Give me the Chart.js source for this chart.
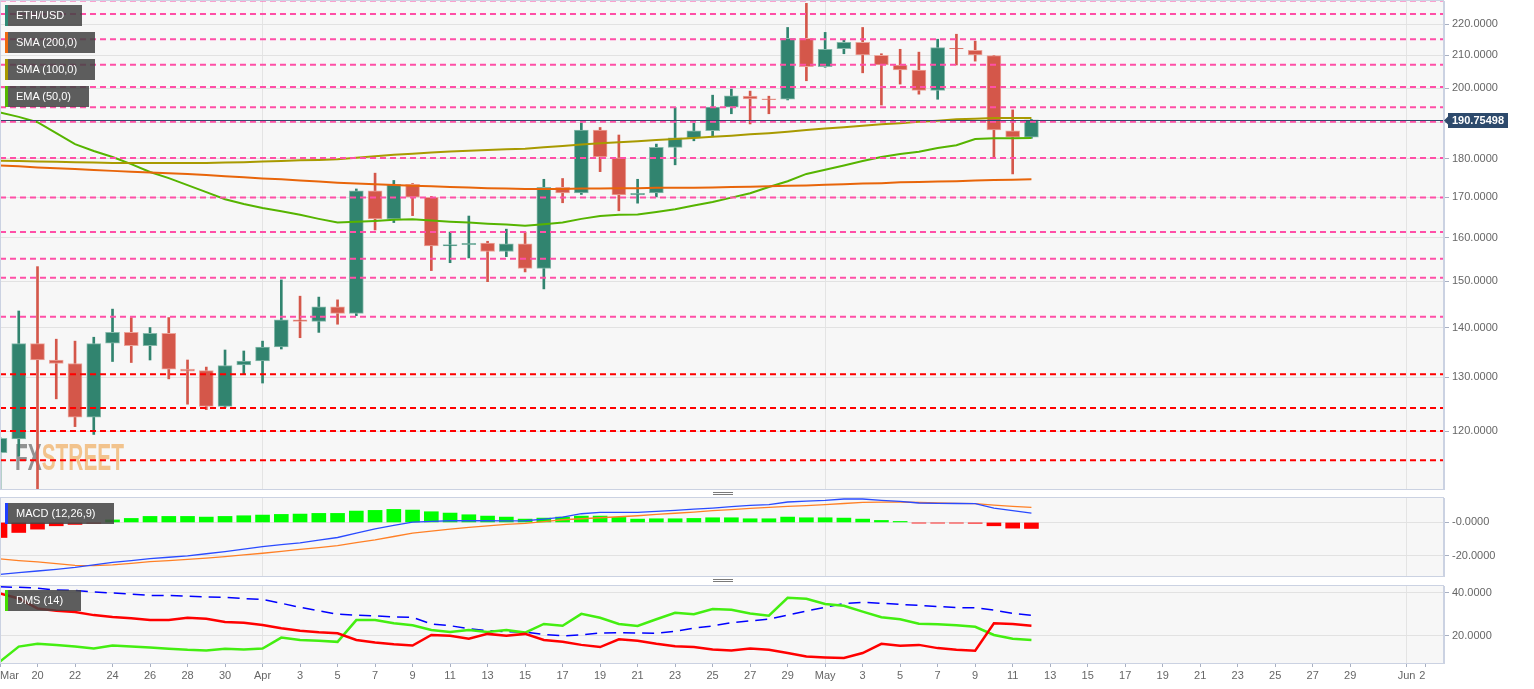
<!DOCTYPE html>
<html>
<head>
<meta charset="utf-8">
<script src="https://cdn.jsdelivr.net/npm/chart.js@4.4.0/dist/chart.umd.min.js"></script>
<style>
    body { margin: 0; background: #fff; width: 1534px; height: 689px; overflow: hidden; position: relative; font-family: "Liberation Sans", Arial, sans-serif; }
    canvas { position: absolute; left: 0; }
    .tag { position: absolute; left: 5px; height: 21px; line-height: 21px; background: rgba(68, 68, 68, 0.86); color: #fff; font-size: 11px; padding-left: 8px; box-sizing: border-box; border-left: 3px solid; white-space: nowrap; }
    .grip { position: absolute; left: 713px; width: 20px; height: 4px; background: repeating-linear-gradient(#7a7a7a 0 1px, transparent 1px 2px); }
</style>
</head>
<body>
<canvas id="mainChart" width="1534" height="490" style="top:0"></canvas>
<canvas id="macdChart" width="1534" height="87" style="top:490px"></canvas>
<canvas id="dmsChart" width="1534" height="112" style="top:577px"></canvas>

<div class="tag" style="top:5px;width:77px;border-color:#2e8b76">ETH/USD</div>
<div class="tag" style="top:32px;width:90px;border-color:#ee6a10">SMA (200,0)</div>
<div class="tag" style="top:59px;width:90px;border-color:#a89a00">SMA (100,0)</div>
<div class="tag" style="top:86px;width:84px;border-color:#55b800">EMA (50,0)</div>
<div class="tag" style="top:503px;width:109px;border-color:#1f3fff">MACD (12,26,9)</div>
<div class="tag" style="top:590px;width:76px;border-color:#44dd00">DMS (14)</div>
<div class="grip" style="top:492px"></div>
<div class="grip" style="top:579px"></div>

<script>
'use strict';

let axisStart = '2020-03-18';
let axisEnd = '2020-06-03';

let dates = [
    '2020-03-18', '2020-03-19', '2020-03-20', '2020-03-21', '2020-03-22', '2020-03-23', '2020-03-24',
    '2020-03-25', '2020-03-26', '2020-03-27', '2020-03-28', '2020-03-29', '2020-03-30', '2020-03-31',
    '2020-04-01', '2020-04-02', '2020-04-03', '2020-04-04', '2020-04-05', '2020-04-06', '2020-04-07',
    '2020-04-08', '2020-04-09', '2020-04-10', '2020-04-11', '2020-04-12', '2020-04-13', '2020-04-14',
    '2020-04-15', '2020-04-16', '2020-04-17', '2020-04-18', '2020-04-19', '2020-04-20', '2020-04-21',
    '2020-04-22', '2020-04-23', '2020-04-24', '2020-04-25', '2020-04-26', '2020-04-27', '2020-04-28',
    '2020-04-29', '2020-04-30', '2020-05-01', '2020-05-02', '2020-05-03', '2020-05-04', '2020-05-05',
    '2020-05-06', '2020-05-07', '2020-05-08', '2020-05-09', '2020-05-10', '2020-05-11', '2020-05-12'
];

let open = [116.2, 118.6, 136.7, 133.4, 132.7, 122.5, 136.8, 139.0, 136.3, 138.8, 131.6, 131.3, 124.5, 132.4,
    133.2, 136.0, 141.6, 141.3, 144.4, 143.0, 171.6, 164.6, 173.3, 170.0, 158.1, 158.4, 158.8, 156.8, 158.6, 152.9,
    172.5, 171.1, 187.9, 180.3, 170.6, 171.1, 183.1, 185.7, 187.7, 194.4, 197.6, 196.8, 196.7, 215.4,
    206.5, 212.1, 214.1, 210.0, 207.0, 205.4, 199.3, 212.2, 211.6, 209.9, 187.7, 185.9];
let high = [118.9, 143.5, 153.3, 137.6, 137.2, 138.0, 143.9, 142.1, 140.0, 142.1, 133.4, 132.0, 135.4, 135.2,
    137.2, 150.3, 146.7, 146.5, 145.9, 172.1, 176.2, 174.3, 173.5, 170.2, 161.4, 165.3, 159.2, 162.1, 161.4, 174.6,
    174.8, 189.9, 188.6, 186.5, 174.6, 184.0, 194.3, 189.8, 197.9, 199.7, 199.1, 197.6, 218.9, 226.9,
    217.3, 214.8, 218.9, 210.5, 211.9, 211.0, 215.1, 216.7, 214.5, 210.0, 193.6, 190.9];
let low = [109.5, 115.6, 109.5, 125.9, 120.8, 119.4, 133.1, 132.9, 133.4, 129.7, 124.9, 123.9, 124.3, 130.6,
    128.9, 135.6, 137.9, 139.0, 140.7, 142.5, 161.9, 163.7, 165.4, 152.4, 154.2, 155.3, 149.9, 155.6, 152.1, 148.3,
    168.6, 170.7, 176.6, 166.6, 168.5, 170.1, 178.4, 184.9, 186.0, 192.5, 189.6, 192.5, 196.5, 202.2,
    206.3, 210.5, 204.6, 195.0, 201.2, 198.2, 196.7, 207.0, 208.2, 180.4, 176.0, 185.6];
let close = [118.7, 136.7, 133.4, 132.7, 122.5, 136.7, 139.0, 136.3, 138.8, 131.6, 131.2, 124.5, 132.3, 133.2,
    136.0, 141.6, 141.3, 144.4, 143.0, 171.6, 164.6, 173.3, 170.0, 158.1, 158.4, 158.7, 156.8, 158.6, 152.9, 172.5,
    171.1, 187.9, 180.5, 170.6, 171.0, 183.1, 185.7, 187.7, 194.4, 197.7, 196.8, 196.6, 215.4, 206.5,
    211.9, 214.1, 210.1, 207.0, 205.5, 199.3, 212.4, 212.0, 210.1, 187.9, 185.9, 190.75498];

let sma200 = [178.2, 178.0, 177.7, 177.5, 177.3, 177.0, 176.8, 176.6, 176.4, 176.2, 176.0, 175.7, 175.4, 175.1,
    174.8, 174.6, 174.3, 174.0, 173.7, 173.5, 173.3, 173.1, 172.9, 172.8, 172.6, 172.5, 172.3, 172.2, 172.1, 172.1,
    172.1, 172.2, 172.2, 172.3, 172.3, 172.4, 172.4, 172.4, 172.5, 172.6, 172.7, 172.8, 172.9, 173.0,
    173.2, 173.3, 173.5, 173.6, 173.8, 173.9, 174.0, 174.1, 174.3, 174.4, 174.5, 174.6];
let sma100 = [179.5, 179.4, 179.3, 179.2, 179.1, 179.0, 178.9, 178.9, 178.9, 178.9, 178.9, 178.9, 179.0, 179.1,
    179.3, 179.4, 179.6, 179.7, 179.9, 180.3, 180.7, 181.1, 181.4, 181.7, 182.0, 182.2, 182.4, 182.6, 182.7, 183.1,
    183.5, 183.9, 184.2, 184.5, 184.8, 185.1, 185.4, 185.7, 186.0, 186.3, 186.7, 187.0, 187.4, 187.9,
    188.3, 188.7, 189.1, 189.5, 189.8, 190.2, 190.5, 190.9, 191.1, 191.3, 191.3, 191.3];
let ema50 = [192.9, 191.6, 190.1, 187.0, 184.0, 182.1, 180.5, 178.6, 176.5, 174.9, 173.1, 171.3, 169.5, 168.3,
    167.3, 166.5, 165.6, 164.6, 163.7, 163.9, 164.1, 164.4, 164.5, 164.2, 163.9, 163.7, 163.4, 163.2, 162.9, 163.3,
    163.7, 164.6, 165.3, 165.6, 165.7, 166.3, 167.0, 167.9, 168.8, 169.9, 171.0, 172.6, 174.1, 176.0,
    177.1, 178.2, 179.4, 180.5, 181.3, 181.9, 182.9, 183.7, 185.4, 185.6, 185.6, 185.7];

let macdHist = [-9.0, -6.0, -4.0, -2.0, -1.2, -0.5, 1.5, 2.4, 3.6, 3.6, 3.6, 3.2, 3.6, 4.0,
    4.4, 4.8, 5.0, 5.4, 5.4, 6.8, 7.2, 7.8, 7.4, 6.4, 5.6, 4.6, 3.8, 3.2, 2.0, 2.6,
    3.2, 3.8, 3.8, 3.0, 2.0, 2.2, 2.2, 2.4, 2.8, 2.8, 2.2, 2.2, 3.2, 2.8,
    2.8, 2.6, 2.0, 1.2, 0.6, -0.4, -0.4, -0.4, -0.5, -2.0, -3.4, -3.6];
let macdLine = [-31.0, -30.0, -29.0, -28.0, -26.9, -25.3, -23.8, -22.8, -21.6, -20.8, -20.0, -18.7, -17.4, -15.9,
    -14.4, -13.3, -12.2, -10.6, -9.0, -6.4, -3.8, -1.8, 0.2, 0.6, 1.0, 1.0, 1.0, 0.9, 1.0, 2.0,
    3.2, 5.2, 6.0, 6.0, 6.0, 6.6, 7.2, 7.9, 8.6, 9.4, 10.2, 10.6, 12.2, 12.7,
    13.2, 14.0, 14.0, 13.2, 12.6, 11.6, 11.4, 11.3, 11.2, 8.6, 7.0, 5.6];
let macdSignal = [-21.8, -22.8, -23.6, -24.6, -25.6, -25.8, -25.4, -24.4, -23.4, -22.8, -22.1, -21.3, -20.4, -19.4,
    -18.4, -17.3, -16.1, -15.0, -13.8, -12.1, -10.4, -8.4, -6.4, -5.2, -4.0, -3.0, -2.0, -1.2, -0.6, 0.5,
    1.6, 2.2, 2.8, 3.4, 4.0, 4.8, 5.5, 6.2, 7.0, 7.7, 8.4, 9.0, 9.6, 10.1,
    10.6, 11.3, 12.0, 12.1, 12.2, 11.9, 11.6, 11.4, 11.2, 10.4, 9.6, 9.0];

let dmsAdx = [42.6, 42.4, 42.0, 41.1, 41.0, 40.2, 39.8, 39.2, 38.6, 38.6, 38.3, 37.9, 37.7, 37.2,
    36.8, 35.0, 33.1, 31.5, 29.9, 29.5, 29.1, 28.7, 28.5, 25.4, 24.6, 23.2, 22.3, 21.8, 21.6, 20.5,
    19.9, 20.3, 21.2, 21.4, 21.2, 21.1, 22.0, 23.5, 24.5, 26.0, 26.8, 27.6, 29.5, 31.4,
    33.1, 34.9, 35.4, 35.0, 34.5, 34.0, 33.5, 33.0, 32.9, 31.8, 30.3, 29.4];
let dmsMinus = [39.5, 37.2, 32.6, 31.5, 30.9, 29.5, 28.6, 28.0, 27.2, 27.2, 28.3, 27.8, 26.3, 26.0,
    24.9, 23.4, 22.3, 21.6, 21.1, 18.0, 16.8, 16.0, 15.4, 20.3, 19.9, 18.6, 20.8, 19.9, 20.8, 18.0,
    17.2, 15.7, 14.7, 18.3, 17.6, 16.2, 15.1, 14.7, 13.6, 13.1, 14.0, 13.4, 11.9, 10.3,
    9.9, 9.6, 11.9, 16.2, 15.3, 15.7, 14.2, 13.4, 13.0, 25.7, 25.4, 24.6];
let dmsPlus = [8.0, 14.9, 16.2, 15.6, 14.9, 14.0, 15.4, 14.9, 14.5, 13.9, 13.4, 13.1, 13.9, 13.6,
    14.0, 19.1, 18.0, 17.6, 17.1, 27.2, 27.2, 25.7, 24.8, 22.6, 21.7, 22.6, 21.7, 22.6, 21.4, 25.4,
    24.6, 30.1, 28.3, 25.4, 24.5, 27.6, 30.6, 29.9, 32.3, 32.0, 30.3, 29.2, 37.5, 37.1,
    34.7, 33.8, 31.1, 28.5, 27.6, 25.5, 25.3, 24.8, 24.1, 20.3, 18.5, 18.0];

let pinkLevels = [227.9, 223.3, 215.1, 207.1, 200.3, 194.4, 190.2, 180.2, 169.9, 161.4, 155.1, 150.8, 142.3];
let redLevels = [130.6, 124.2, 120.0, 114.9];

let priceTicks = [120, 130, 140, 150, 160, 170, 180, 190, 200, 210, 220];
let macdTicks = [0, -20];
let macdTickText = ['-0.0000', '-20.0000'];
let dmsTicks = [40, 20];
let monthDates = ['2020-04-01', '2020-05-01', '2020-06-01'];

let xTickDates = [
    '2020-03-18', '2020-03-20', '2020-03-22', '2020-03-24', '2020-03-26', '2020-03-28', '2020-03-30',
    '2020-04-01', '2020-04-03', '2020-04-05', '2020-04-07', '2020-04-09', '2020-04-11', '2020-04-13',
    '2020-04-15', '2020-04-17', '2020-04-19', '2020-04-21', '2020-04-23', '2020-04-25', '2020-04-27', '2020-04-29',
    '2020-05-01', '2020-05-03', '2020-05-05', '2020-05-07', '2020-05-09', '2020-05-11', '2020-05-13',
    '2020-05-15', '2020-05-17', '2020-05-19', '2020-05-21', '2020-05-23', '2020-05-25', '2020-05-27', '2020-05-29',
    '2020-06-01', '2020-06-02'
];
let xTickText = [
    'Mar', '20', '22', '24', '26', '28', '30',
    'Apr', '3', '5', '7', '9', '11', '13',
    '15', '17', '19', '21', '23', '25', '27', '29',
    'May', '3', '5', '7', '9', '11', '13',
    '15', '17', '19', '21', '23', '25', '27', '29',
    'Jun', '2'
];


Chart.defaults.font.family = '"Liberation Sans", Arial, sans-serif';
Chart.defaults.font.size = 11;
Chart.defaults.color = '#666';

function day(s) {
    return (Date.parse(s) - Date.parse(axisStart)) / 864e5;
}

function series(values) {
    return dates.map((d, i) => ({ x: day(d), y: values[i] }));
}

function fixY(scale) {
    scale.width = 90;
    scale.paddingTop = 0;
    scale.paddingBottom = 0;
}

function fixX(h) {
    return function (scale) {
        scale.height = h;
        scale.paddingLeft = 0;
        scale.paddingRight = 0;
    };
}

function monthAxis() {
    return {
        type: 'linear',
        min: 0,
        max: day(axisEnd),
        offset: false,
        ticks: { display: false },
        grid: { color: '#e4e4e4', drawTicks: false, offset: false },
        border: { display: false },
        afterBuildTicks: s => { s.ticks = monthDates.map(d => ({ value: day(d) })); },
        afterFit: fixX(0)
    };
}

function rightAxis(min, max, tickValues, label) {
    return {
        position: 'right',
        min: min,
        max: max,
        bounds: 'data',
        grid: { color: '#e2e2e2', tickColor: '#a8b0c2', tickLength: 5 },
        border: { color: '#cbd2e2' },
        ticks: { color: '#666', padding: 3, callback: label },
        afterBuildTicks: s => { s.ticks = tickValues.map(v => ({ value: v })); },
        afterFit: fixY
    };
}

let panel = {
    id: 'panel',
    beforeDraw(chart) {
        let { ctx, chartArea: a } = chart;
        ctx.save();
        ctx.fillStyle = '#f7f7f7';
        ctx.fillRect(a.left, a.top, a.width, a.height);
        ctx.restore();
    },
    afterDraw(chart) {
        let { ctx, chartArea: a } = chart;
        ctx.save();
        ctx.strokeStyle = '#cbd2e2';
        ctx.lineWidth = 1;
        ctx.strokeRect(a.left + 0.5, a.top - 0.5, a.width - 1, a.height + 1);
        ctx.restore();
    }
};

// watermark behind the candles
let watermark = {
    id: 'watermark',
    beforeDatasetsDraw(chart) {
        let ctx = chart.ctx;
        ctx.save();
        ctx.font = 'bold 37px "Liberation Sans", Arial, sans-serif';
        let wFx = ctx.measureText('FX').width;
        let wSt = ctx.measureText('STREET').width;
        ctx.translate(15, 470);
        ctx.scale(109 / (wFx + wSt), 1);
        ctx.fillStyle = 'rgba(128, 128, 128, 0.85)';
        ctx.fillText('FX', 0, 0);
        ctx.fillStyle = 'rgba(240, 178, 105, 0.75)';
        ctx.fillText('STREET', wFx, 0);
        ctx.restore();
    }
};

// dashed levels, last price line and price tag
let levels = {
    id: 'levels',
    afterDatasetsDraw(chart) {
        let { ctx, chartArea: a, scales: { y } } = chart;
        ctx.save();
        ctx.beginPath();
        ctx.rect(a.left, 0, a.width, a.bottom);
        ctx.clip();
        ctx.lineWidth = 2;
        ctx.setLineDash([6, 4]);
        let draw = (list, color) => {
            ctx.strokeStyle = color;
            for (let i = 0; i < list.length; i++) {
                let py = y.getPixelForValue(list[i]);
                ctx.beginPath();
                ctx.moveTo(a.left, py);
                ctx.lineTo(a.right, py);
                ctx.stroke();
            }
        };
        draw(pinkLevels, '#ff4fa7');
        draw(redLevels, '#ff0000');
        ctx.setLineDash([]);
        ctx.lineWidth = 1;
        ctx.strokeStyle = '#34496b';
        let py = Math.round(y.getPixelForValue(close[close.length - 1])) + 0.5;
        ctx.beginPath();
        ctx.moveTo(a.left, py);
        ctx.lineTo(a.right, py);
        ctx.stroke();
        ctx.restore();
    },
    afterDraw(chart) {
        let { ctx, chartArea: a, scales: { y } } = chart;
        let last = close[close.length - 1];
        let py = Math.round(y.getPixelForValue(last)) + 0.5;
        ctx.save();
        ctx.fillStyle = '#2d4a6c';
        ctx.beginPath();
        ctx.moveTo(a.right, py);
        ctx.lineTo(a.right + 4, py - 4);
        ctx.lineTo(a.right + 4, py - 7.5);
        ctx.lineTo(a.right + 64, py - 7.5);
        ctx.lineTo(a.right + 64, py + 7.5);
        ctx.lineTo(a.right + 4, py + 7.5);
        ctx.lineTo(a.right + 4, py + 4);
        ctx.closePath();
        ctx.fill();
        ctx.fillStyle = '#fff';
        ctx.font = 'bold 11px "Liberation Sans", Arial, sans-serif';
        ctx.textAlign = 'center';
        ctx.textBaseline = 'middle';
        ctx.fillText(last.toFixed(5), a.right + 34, py + 0.5);
        ctx.restore();
    }
};


let up = close.map((c, i) => c >= open[i]);

new Chart(document.getElementById('mainChart'), {
    type: 'bar',
    data: {
        datasets: [{
            type: 'line',
            data: series(sma100),
            borderColor: '#a89a00',
            borderWidth: 2,
            pointRadius: 0,
            order: 0
        }, {
            type: 'line',
            data: series(sma200),
            borderColor: '#e8650a',
            borderWidth: 2,
            pointRadius: 0,
            order: 0
        }, {
            type: 'line',
            data: series(ema50),
            borderColor: '#56b400',
            borderWidth: 2,
            pointRadius: 0,
            order: 0
        }, {
            data: dates.map((d, i) => ({ x: day(d), y: [open[i], close[i]] })),
            backgroundColor: up.map(u => u ? '#31846f' : '#d4574a'),
            borderColor: up.map(u => u ? '#86b9aa' : '#eca59b'),
            borderWidth: 1,
            borderSkipped: false,
            barThickness: 14,
            grouped: false,
            clip: 0,
            order: 1
        }, {
            data: dates.map((d, i) => ({ x: day(d), y: [low[i], high[i]] })),
            backgroundColor: up.map(u => u ? '#31846f' : '#d4574a'),
            borderWidth: 0,
            barThickness: 2,
            grouped: false,
            clip: 0,
            order: 2
        }]
    },
    options: {
        responsive: false,
        animation: false,
        layout: { padding: { top: 1, bottom: 1, left: 0, right: 0 } },
        plugins: { legend: { display: false }, tooltip: { enabled: false } },
        scales: {
            x: monthAxis(),
            y: Object.assign(rightAxis(110.08, 227.7, priceTicks, v => v.toFixed(4)), { type: 'logarithmic' })
        }
    },
    plugins: [panel, watermark, levels]
});

new Chart(document.getElementById('macdChart'), {
    type: 'bar',
    data: {
        datasets: [{
            type: 'line',
            data: series(macdLine),
            borderColor: '#2a4bff',
            borderWidth: 1.3,
            pointRadius: 0,
            order: 0
        }, {
            type: 'line',
            data: series(macdSignal),
            borderColor: '#ff8026',
            borderWidth: 1.3,
            pointRadius: 0,
            order: 0
        }, {
            data: series(macdHist),
            backgroundColor: macdHist.map(v => v >= 0 ? '#00ff00' : '#ff0000'),
            barThickness: 14,
            grouped: false,
            clip: 0,
            order: 1
        }]
    },
    options: {
        responsive: false,
        animation: false,
        layout: { padding: { top: 8, bottom: 1, left: 0, right: 0 } },
        plugins: { legend: { display: false }, tooltip: { enabled: false } },
        scales: {
            x: monthAxis(),
            y: rightAxis(-32, 14.6, macdTicks, (v, i) => macdTickText[i])
        }
    },
    plugins: [panel]
});

new Chart(document.getElementById('dmsChart'), {
    type: 'line',
    data: {
        datasets: [{
            data: series(dmsMinus),
            borderColor: '#ff0000',
            borderWidth: 2.5,
            pointRadius: 0
        }, {
            data: series(dmsPlus),
            borderColor: '#44ee11',
            borderWidth: 2.5,
            pointRadius: 0
        }, {
            data: series(dmsAdx),
            borderColor: '#0000ff',
            borderWidth: 1.5,
            borderDash: [12, 7],
            pointRadius: 0
        }]
    },
    options: {
        responsive: false,
        animation: false,
        layout: { padding: { top: 9, bottom: 0, left: 0, right: 0 } },
        plugins: { legend: { display: false }, tooltip: { enabled: false } },
        scales: {
            x: {
                type: 'linear',
                min: 0,
                max: day(axisEnd),
                offset: false,
                grid: {
                    color: c => isNaN(xTickText[c.index]) ? '#e4e4e4' : 'transparent',
                    tickColor: '#a8b0c2',
                    tickLength: 4
                },
                border: { color: '#cbd2e2' },
                ticks: {
                    autoSkip: false,
                    maxRotation: 0,
                    align: 'inner',
                    padding: 2,
                    color: '#666',
                    callback: (v, i) => xTickText[i]
                },
                afterBuildTicks: s => { s.ticks = xTickDates.map(d => ({ value: day(d) })); },
                afterFit: fixX(26)
            },
            y: rightAxis(7.3, 43, dmsTicks, v => v.toFixed(4))
        }
    },
    plugins: [panel]
});
</script>
</body>
</html>
